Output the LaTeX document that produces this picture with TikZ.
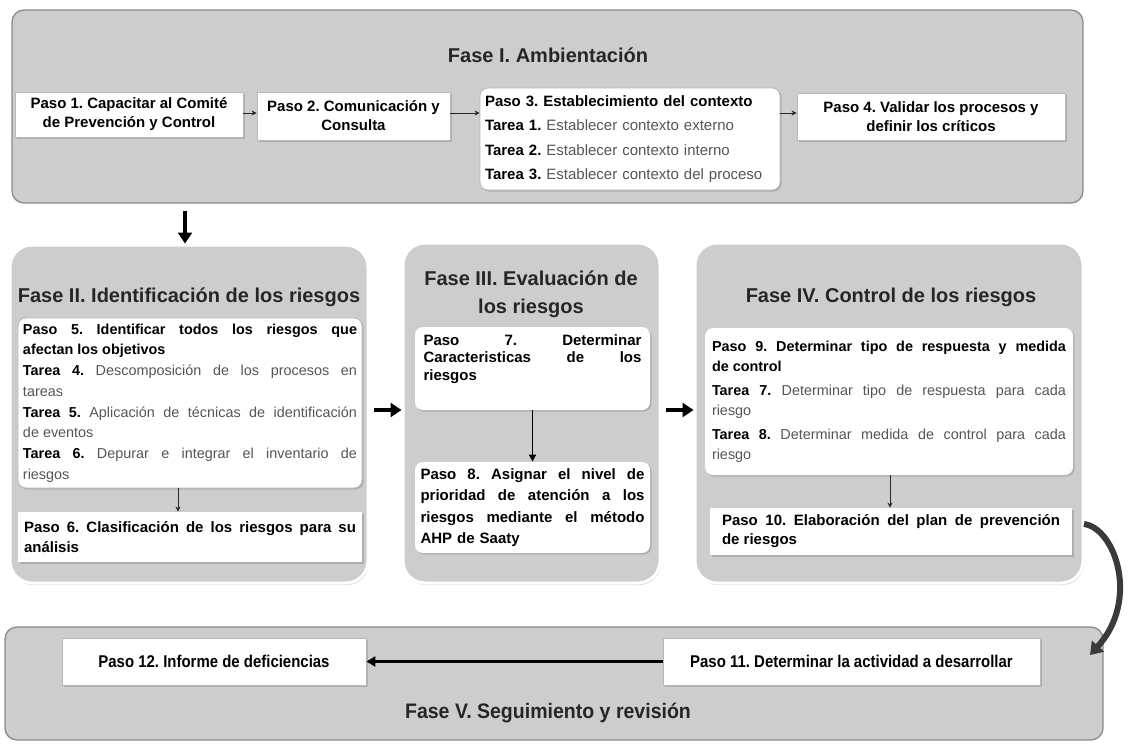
\documentclass[tikz,border=0pt]{standalone}
\usepackage{fontspec}
\setmainfont{Liberation Sans}
\usetikzlibrary{arrows.meta,shadows}
\frenchspacing
\definecolor{phasefill}{HTML}{CDCDCD}
\definecolor{phasedraw}{HTML}{8A8A8A}
\definecolor{tgray}{HTML}{555555}
\definecolor{curvegray}{HTML}{3A3A3A}
\tikzset{
  phase/.style={draw=phasedraw, line width=1.3pt, fill=phasefill, rounded corners=12pt, inner sep=0pt},
  phasebig/.style={phase, draw=white, line width=3pt, rounded corners=22pt, drop shadow={shadow xshift=1pt, shadow yshift=-2pt, opacity=0.35}},
  wbox/.style={draw=gray!55, line width=0.8pt, fill=white, inner sep=0pt, drop shadow={shadow xshift=1.5pt, shadow yshift=-1.5pt, opacity=0.4}},
  wround/.style={wbox, rounded corners=8pt},
  title/.style={font=\fontsize{20}{24}\selectfont\bfseries, text=black!85},
  pbold/.style={font=\fontsize{15}{19}\selectfont\bfseries, align=center},
  smallarrow/.style={-{Stealth[length=5pt,width=5pt]}, line width=1pt, black!85},
  midarrow/.style={-{Triangle[length=7pt,width=7pt]}, line width=1.6pt, black},
  bigarrow/.style={-{Triangle[length=11pt,width=14pt]}, line width=4.5pt, black},
}
\newcommand{\tar}[1]{\textbf{Tarea #1.}}
\begin{document}
\begin{tikzpicture}[x=1pt,y=-1pt]
\useasboundingbox (0,0) rectangle (1130,747);
% ---------- Fase I
\node[phase, minimum width=1071pt, minimum height=193pt] (f1) at (547.5,106.5) {};
\node[title] (t1) at (548,55) {Fase I. Ambientación};
\node[wbox, minimum width=228pt, minimum height=45pt, pbold] (p1) at (129,114.5) {Paso 1. Capacitar al Comité\\de Prevención y Control};
\node[wbox, minimum width=193pt, minimum height=48pt, pbold] (p2) at (353.5,116) {Paso 2. Comunicación y\\Consulta};
\node[wround, minimum width=300pt, minimum height=102pt, text width=290pt, align=left,
      font=\fontsize{15}{24.5}\selectfont] (p3) at (630,139)
  {\textbf{Paso 3. Establecimiento del contexto}\\
   \tar{1} {\color{tgray}Establecer contexto externo}\\
   \tar{2} {\color{tgray}Establecer contexto interno}\\
   \tar{3} {\color{tgray}Establecer contexto del proceso}};
\node[wbox, minimum width=268pt, minimum height=47pt, pbold] (p4) at (931,116.5) {Paso 4. Validar los procesos y\\definir los críticos};
\coordinate (y112) at (0,113);
\draw[smallarrow] (p1.east |- y112) -- (p2.west |- y112);
\draw[smallarrow] (p2.east |- y112) -- (p3.west |- y112);
\draw[smallarrow] (p3.east |- y112) -- (p4.west |- y112);
% ---------- Fase II
\node[phasebig, minimum width=358pt, minimum height=338pt] (f2) at (189,414) {};
\node[title] (t2) at (189,297) {Fase II. Identificación de los riesgos};
\node[wround, minimum width=344pt, minimum height=170pt, text width=334pt, align=justify,
      font=\fontsize{14.4}{20.7}\selectfont] (p5) at (190,403)
  {\textbf{Paso 5. Identificar todos los riesgos que\linebreak afectan los objetivos}\\
   \tar{4} {\color{tgray}Descomposición de los procesos en\linebreak tareas}\\
   \tar{5} {\color{tgray}Aplicación de técnicas de identificación\linebreak de eventos}\\
   \tar{6} {\color{tgray}Depurar e integrar el inventario de\linebreak riesgos}};
\node[wbox, draw=none, minimum width=344pt, minimum height=50pt, text width=332pt, align=justify,
      font=\fontsize{15}{20}\selectfont\bfseries] (p6) at (190,537)
  {Paso 6. Clasificación de los riesgos para su\linebreak análisis};
\draw[smallarrow] (p5.south -| 178,0) -- (p6.north -| 178,0);
% ---------- Fase III
\node[phasebig, minimum width=257pt, minimum height=340pt] (f3) at (531.5,413) {};
\node[title, align=center, font=\fontsize{20}{28}\selectfont\bfseries] (t3) at (531,294) {Fase III. Evaluación de\\los riesgos};
\node[wround, draw=none, minimum width=235pt, minimum height=83pt] (p7) at (532.5,368.5) {};
\node[text width=218pt, align=left, inner sep=0pt,
      font=\fontsize{15}{17.5}\selectfont\bfseries] (p7t) at (532.5,359)
  {Paso\hfill 7.\hfill Determinar\\Caracteristicas\hfill de\hfill los\\riesgos};
\node[wround, draw=none, minimum width=235pt, minimum height=91pt, text width=224pt, align=left,
      font=\fontsize{15}{21.5}\selectfont\bfseries] (p8) at (532.5,507.5)
  {Paso\hfill 8.\hfill Asignar\hfill el\hfill nivel\hfill de\\prioridad\hfill de\hfill atención\hfill a\hfill los\\riesgos\hfill mediante\hfill el\hfill método\\AHP de Saaty};
\draw[midarrow] (p7.south) -- (p8.north);
% ---------- Fase IV
\node[phasebig, minimum width=388pt, minimum height=340pt] (f4) at (889,413) {};
\node[title] (t4) at (891,297) {Fase IV. Control de los riesgos};
\node[wround, draw=none, minimum width=368pt, minimum height=147pt, text width=354pt, align=justify,
      font=\fontsize{14.4}{20}\selectfont] (p9) at (889,401.5)
  {\textbf{Paso 9. Determinar tipo de respuesta y medida\linebreak de control}\\[4pt]
   \tar{7} {\color{tgray}Determinar tipo de respuesta para cada\linebreak riesgo}\\[4pt]
   \tar{8} {\color{tgray}Determinar medida de control para cada\linebreak riesgo}};
\node[wbox, draw=none, minimum width=362pt, minimum height=47pt, text width=338pt, align=justify,
      font=\fontsize{15}{19}\selectfont\bfseries] (p10) at (891,531.5)
  {Paso 10. Elaboración del plan de prevención\linebreak de riesgos};
\draw[smallarrow] (p9.south -| 890,0) -- (p10.north -| 890,0);
% big arrows between phases
\coordinate (c1) at (185,211);
\draw[bigarrow] (c1) -- (f2.north -| c1);
\coordinate (y410) at (0,410);
\draw[bigarrow] ([xshift=4pt]f2.east |- y410) -- (f3.west |- y410);
\draw[bigarrow] ([xshift=4pt]f3.east |- y410) -- (f4.west |- y410);
% ---------- Fase V
\node[phase, minimum width=1098pt, minimum height=113pt] (f5) at (554,683.5) {};
\node[title, font=\fontsize{21}{24}\selectfont\bfseries] (t5) at (548,713) {\scalebox{0.93}[1]{Fase V. Seguimiento y revisión}};
\node[wbox, minimum width=304pt, minimum height=47pt, font=\fontsize{17}{19}\selectfont\bfseries] (p12) at (214,661.5) {\scalebox{0.88}[1]{Paso 12. Informe de deficiencias}};
\node[wbox, minimum width=377pt, minimum height=47pt, font=\fontsize{17}{19}\selectfont\bfseries] (p11) at (851.5,661.5) {\scalebox{0.88}[1]{Paso 11. Determinar la actividad a desarrollar}};
\draw[-{Triangle[length=9pt,width=10pt]}, line width=3pt] (p11.west) -- (p12.east);
% curved arrow Fase IV -> Fase V
\coordinate (cs) at (1084,524);
\coordinate (ce) at (1090,655);
\draw[curvegray, line width=6pt, -{Triangle[length=12pt,width=16pt]}] (cs) .. controls (1115,528) and (1140,600) .. (ce);
\end{tikzpicture}
\end{document}
